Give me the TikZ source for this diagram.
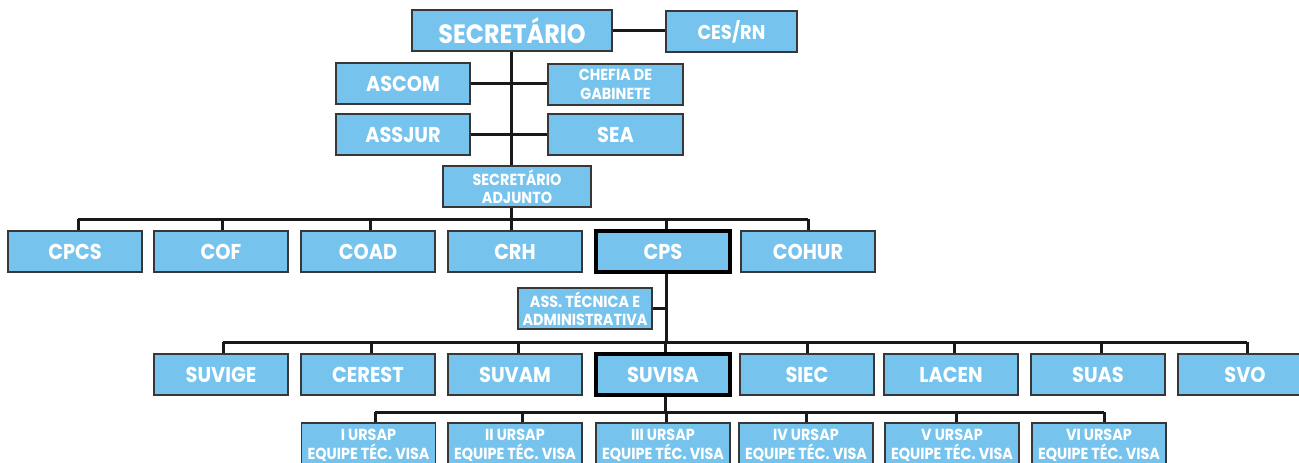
\documentclass[tikz,border=0pt]{standalone}
\usepackage{fontspec}
\setmainfont{Poppins}[FakeStretch=0.9]
\definecolor{boxblue}{RGB}{118,196,238}
\definecolor{boxline}{RGB}{55,55,55}
\newcommand{\dn}[2]{\raisebox{-#1pt}{#2}}
\tikzset{
  orgbox/.style={draw=boxline, line width=1.3pt, fill=boxblue, text=white, font=\bfseries,
    inner sep=0pt, align=center, minimum height=41pt, minimum width=134pt},
  boldbox/.style={orgbox, draw=black, line width=4.2pt},
  conn/.style={draw=black!90, line width=3pt},
  big/.style={font=\fontsize{26.5}{30}\selectfont\bfseries},
  mid/.style={font=\fontsize{21.5}{24}\selectfont\bfseries},
  small/.style={font=\fontsize{16}{18.5}\selectfont\bfseries},
}
\begin{document}
\begin{tikzpicture}[x=1pt,y=-1pt]
\useasboundingbox (0,0) rectangle (1299,463);
% level 0/1
\node[orgbox,big,minimum width=200pt] (sec) at (512,30.5) {SECRETÁRIO};
\node[orgbox,font=\fontsize{20}{22}\selectfont\bfseries,minimum width=131pt] (ces) at (731.5,31.5) {CES/RN};
\node[orgbox,mid] (ascom) at (403,83.5) {ASCOM};
\node[orgbox,small,minimum width=135pt] (chefia) at (615.5,84.5) {CHEFIA DE\\GABINETE};
\node[orgbox,mid] (assjur) at (403,134.5) {ASSJUR};
\node[orgbox,mid,minimum width=135pt] (sea) at (615.5,134.5) {SEA};
\node[orgbox,small,minimum width=148pt] (adj) at (517,186.5) {SECRETÁRIO\\ADJUNTO};
% row 2
\node[orgbox,mid] (cpcs) at (75,251.5) {CPCS};
\node[orgbox,mid] (cof) at (221,251.5) {\dn{3}{COF}};
\node[orgbox,mid] (coad) at (368,251.5) {COAD};
\node[orgbox,mid] (crh) at (515,251.5) {CRH};
\node[boldbox,mid] (cps) at (663,251.5) {\dn{1}{CPS}};
\node[orgbox,mid] (cohur) at (808,251.5) {\dn{3}{COHUR}};
\node[orgbox,small] (ass) at (585,308.5) {ASS. TÉCNICA E\\ADMINISTRATIVA};
% row 3
\node[orgbox,mid] (suvige) at (221,374.5) {\dn{4}{SUVIGE}};
\node[orgbox,mid] (cerest) at (368,374.5) {CEREST};
\node[orgbox,mid] (suvam) at (515,374.5) {\dn{3}{SUVAM}};
\node[boldbox,mid] (suvisa) at (663,374.5) {\dn{2}{SUVISA}};
\node[orgbox,mid] (siec) at (807,374.5) {\dn{3}{SIEC}};
\node[orgbox,mid] (lacen) at (951,374.5) {\dn{5}{LACEN}};
\node[orgbox,mid] (suas) at (1098,374.5) {\dn{3}{SUAS}};
\node[orgbox,mid] (svo) at (1245,374.5) {\dn{3}{SVO}};
% row 4
\foreach \n/\x/\t in {u1/368.5/I, u2/515/II, u3/663/III, u4/806/IV, u5/952/V, u6/1099/VI}
  \node[orgbox,small,minimum height=47pt] (\n) at (\x,446.5) {\raisebox{4pt}{\shortstack{\t\ URSAP\\[0pt]EQUIPE TÉC. VISA}}};
% connectors
\coordinate (t0) at (511,0);
\coordinate (b1) at (0,219);
\coordinate (b2) at (0,342);
\coordinate (b3) at (0,412);
\draw[conn] (sec.east) -- (sec.east -| ces.west);
\draw[conn] (sec.south -| t0) -- (adj.north -| t0);
\draw[conn] (ascom.east) -- (ascom.east -| chefia.west);
\draw[conn] (assjur.east) -- (sea.west);
\draw[conn] (adj.south -| t0) -- (t0 |- b1);
% row 2 drops
\foreach \n/\x in {cpcs/78, cof/222, coad/370, crh/511, cps/666, cohur/808} {
  \coordinate (d) at (\x,0);
  \draw[conn] (\n.north -| d) -- (d |- b1);
}
\draw[conn] (78,0 |- b1) -- (808,0 |- b1);
\coordinate (v2) at (666,0);
\draw[conn] (cps.south -| v2) -- (v2 |- b2);
\draw[conn] (ass.east) -- (ass.east -| v2);
% row 3 drops
\foreach \n/\x in {suvige/223, cerest/371, suvam/518, suvisa/665, siec/807, lacen/954, suas/1101, svo/1247} {
  \coordinate (d) at (\x,0);
  \draw[conn] (\n.north -| d) -- (d |- b2);
}
\draw[conn] (223,0 |- b2) -- (1247,0 |- b2);
\coordinate (v3) at (665,0);
\draw[conn] (suvisa.south -| v3) -- (v3 |- b3);
% row 4 drops
\foreach \n/\x in {u1/375, u2/522, u3/666, u4/806, u5/956, u6/1104} {
  \coordinate (d) at (\x,0);
  \draw[conn] (\n.north -| d) -- (d |- b3);
}
\draw[conn] (375,0 |- b3) -- (1104,0 |- b3);
\end{tikzpicture}
\end{document}
